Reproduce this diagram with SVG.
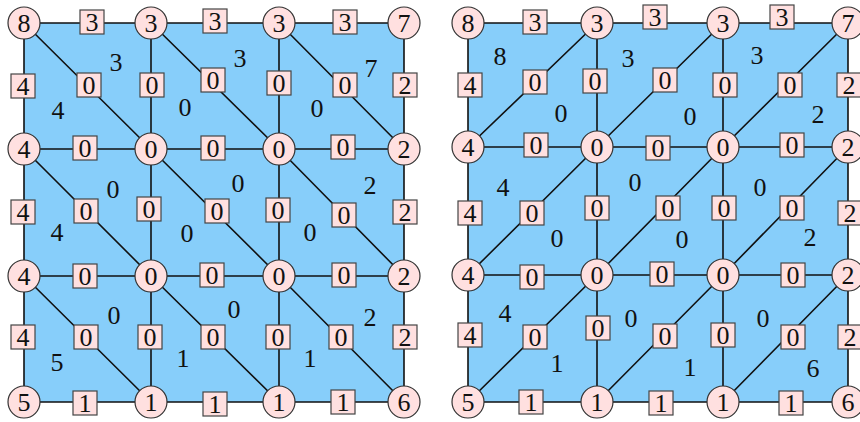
<svg xmlns="http://www.w3.org/2000/svg" width="860" height="422" viewBox="0 0 860 422">
<style>
.bg{fill:#87cefa;stroke:none}
.e{stroke:#111;stroke-width:1.6;fill:none}
.n circle{fill:#ffe0e0;stroke:#333;stroke-width:1.2}
.b rect{fill:#ffe0e0;stroke:#444;stroke-width:1.2}
.n text,.b text,.f text{font-family:"Liberation Serif","Times New Roman",serif;font-size:26px;text-anchor:middle;fill:#111}
</style>
<rect class="bg" x="24" y="23" width="380" height="379"/>
<rect class="bg" x="468" y="23" width="380" height="379"/>
<g id="connectors">
<path class="e" d="M24,23H404M24,149H404M24,276H404M24,402H404M24,23V402M151,23V402M279,23V402M404,23V402"/>
<path class="e" d="M24,23L151,149M151,23L279,149M279,23L404,149M24,149L151,276M151,149L279,276M279,149L404,276M24,276L151,402M151,276L279,402M279,276L404,402"/>
<path class="e" d="M468,23H848M468,147H848M468,275H848M468,402H848M468,23V402M597,23V402M723,23V402M848,23V402"/>
<path class="e" d="M468,147L597,23M597,147L723,23M723,147L848,23M468,275L597,147M597,275L723,147M723,275L848,147M468,402L597,275M597,402L723,275M723,402L848,275"/>
</g>
<g id="left-labels">
<g id="lb-h1" class="b"><rect x="80" y="10" width="24" height="24"/><text x="92" y="31">3</text></g>
<g id="lb-h2" class="b"><rect x="203" y="9" width="24" height="24"/><text x="215" y="30">3</text></g>
<g id="lb-h3" class="b"><rect x="333" y="10" width="24" height="24"/><text x="345" y="31">3</text></g>
<g id="lb-h4" class="b"><rect x="73" y="136" width="24" height="24"/><text x="85" y="157">0</text></g>
<g id="lb-h5" class="b"><rect x="201" y="136" width="24" height="24"/><text x="213" y="157">0</text></g>
<g id="lb-h6" class="b"><rect x="331" y="135" width="24" height="24"/><text x="343" y="156">0</text></g>
<g id="lb-h7" class="b"><rect x="73" y="264" width="24" height="24"/><text x="85" y="285">0</text></g>
<g id="lb-h8" class="b"><rect x="200" y="263" width="24" height="24"/><text x="212" y="284">0</text></g>
<g id="lb-h9" class="b"><rect x="332" y="263" width="24" height="24"/><text x="344" y="284">0</text></g>
<g id="lb-h10" class="b"><rect x="73" y="391" width="24" height="24"/><text x="85" y="412">1</text></g>
<g id="lb-h11" class="b"><rect x="203" y="392" width="24" height="24"/><text x="215" y="413">1</text></g>
<g id="lb-h12" class="b"><rect x="331" y="390" width="24" height="24"/><text x="343" y="411">1</text></g>
<g id="lb-v1" class="b"><rect x="11" y="74" width="24" height="24"/><text x="23" y="95">4</text></g>
<g id="lb-v2" class="b"><rect x="11" y="200" width="24" height="24"/><text x="23" y="221">4</text></g>
<g id="lb-v3" class="b"><rect x="11" y="325" width="24" height="24"/><text x="23" y="346">4</text></g>
<g id="lb-v4" class="b"><rect x="140" y="73" width="24" height="24"/><text x="152" y="94">0</text></g>
<g id="lb-v5" class="b"><rect x="137" y="197" width="24" height="24"/><text x="149" y="218">0</text></g>
<g id="lb-v6" class="b"><rect x="138" y="325" width="24" height="24"/><text x="150" y="346">0</text></g>
<g id="lb-v7" class="b"><rect x="267" y="71" width="24" height="24"/><text x="279" y="92">0</text></g>
<g id="lb-v8" class="b"><rect x="266" y="198" width="24" height="24"/><text x="278" y="219">0</text></g>
<g id="lb-v9" class="b"><rect x="266" y="325" width="24" height="24"/><text x="278" y="346">0</text></g>
<g id="lb-v10" class="b"><rect x="393" y="73" width="24" height="24"/><text x="405" y="94">2</text></g>
<g id="lb-v11" class="b"><rect x="393" y="200" width="24" height="24"/><text x="405" y="221">2</text></g>
<g id="lb-v12" class="b"><rect x="393" y="325" width="24" height="24"/><text x="405" y="346">2</text></g>
<g id="lb-d1" class="b"><rect x="77" y="73" width="24" height="24"/><text x="89" y="94">0</text></g>
<g id="lb-d2" class="b"><rect x="201" y="68" width="24" height="24"/><text x="213" y="89">0</text></g>
<g id="lb-d3" class="b"><rect x="333" y="73" width="24" height="24"/><text x="345" y="94">0</text></g>
<g id="lb-d4" class="b"><rect x="74" y="199" width="24" height="24"/><text x="86" y="220">0</text></g>
<g id="lb-d5" class="b"><rect x="205" y="199" width="24" height="24"/><text x="217" y="220">0</text></g>
<g id="lb-d6" class="b"><rect x="332" y="203" width="24" height="24"/><text x="344" y="224">0</text></g>
<g id="lb-d7" class="b"><rect x="74" y="325" width="24" height="24"/><text x="86" y="346">0</text></g>
<g id="lb-d8" class="b"><rect x="201" y="325" width="24" height="24"/><text x="213" y="346">0</text></g>
<g id="lb-d9" class="b"><rect x="329" y="325" width="24" height="24"/><text x="341" y="346">0</text></g>
</g>
<g id="right-labels">
<g id="rb-h1" class="b"><rect x="523" y="10" width="24" height="24"/><text x="535" y="31">3</text></g>
<g id="rb-h2" class="b"><rect x="643" y="5" width="24" height="24"/><text x="655" y="26">3</text></g>
<g id="rb-h3" class="b"><rect x="770" y="5" width="24" height="24"/><text x="782" y="26">3</text></g>
<g id="rb-h4" class="b"><rect x="524" y="133" width="24" height="24"/><text x="536" y="154">0</text></g>
<g id="rb-h5" class="b"><rect x="646" y="136" width="24" height="24"/><text x="658" y="157">0</text></g>
<g id="rb-h6" class="b"><rect x="780" y="133" width="24" height="24"/><text x="792" y="154">0</text></g>
<g id="rb-h7" class="b"><rect x="520" y="265" width="24" height="24"/><text x="532" y="286">0</text></g>
<g id="rb-h8" class="b"><rect x="650" y="262" width="24" height="24"/><text x="662" y="283">0</text></g>
<g id="rb-h9" class="b"><rect x="781" y="263" width="24" height="24"/><text x="793" y="284">0</text></g>
<g id="rb-h10" class="b"><rect x="519" y="390" width="24" height="24"/><text x="531" y="411">1</text></g>
<g id="rb-h11" class="b"><rect x="649" y="391" width="24" height="24"/><text x="661" y="412">1</text></g>
<g id="rb-h12" class="b"><rect x="779" y="391" width="24" height="24"/><text x="791" y="412">1</text></g>
<g id="rb-v1" class="b"><rect x="458" y="73" width="24" height="24"/><text x="470" y="94">4</text></g>
<g id="rb-v2" class="b"><rect x="458" y="201" width="24" height="24"/><text x="470" y="222">4</text></g>
<g id="rb-v3" class="b"><rect x="458" y="323" width="24" height="24"/><text x="470" y="344">4</text></g>
<g id="rb-v4" class="b"><rect x="583" y="69" width="24" height="24"/><text x="595" y="90">0</text></g>
<g id="rb-v5" class="b"><rect x="585" y="196" width="24" height="24"/><text x="597" y="217">0</text></g>
<g id="rb-v6" class="b"><rect x="586" y="316" width="24" height="24"/><text x="598" y="337">0</text></g>
<g id="rb-v7" class="b"><rect x="713" y="73" width="24" height="24"/><text x="725" y="94">0</text></g>
<g id="rb-v8" class="b"><rect x="712" y="196" width="24" height="24"/><text x="724" y="217">0</text></g>
<g id="rb-v9" class="b"><rect x="711" y="323" width="24" height="24"/><text x="723" y="344">0</text></g>
<g id="rb-v10" class="b"><rect x="837" y="73" width="24" height="24"/><text x="849" y="94">2</text></g>
<g id="rb-v11" class="b"><rect x="838" y="201" width="24" height="24"/><text x="850" y="222">2</text></g>
<g id="rb-v12" class="b"><rect x="838" y="325" width="24" height="24"/><text x="850" y="346">2</text></g>
<g id="rb-d1" class="b"><rect x="523" y="70" width="24" height="24"/><text x="535" y="91">0</text></g>
<g id="rb-d2" class="b"><rect x="653" y="68" width="24" height="24"/><text x="665" y="89">0</text></g>
<g id="rb-d3" class="b"><rect x="778" y="73" width="24" height="24"/><text x="790" y="94">0</text></g>
<g id="rb-d4" class="b"><rect x="520" y="201" width="24" height="24"/><text x="532" y="222">0</text></g>
<g id="rb-d5" class="b"><rect x="656" y="196" width="24" height="24"/><text x="668" y="217">0</text></g>
<g id="rb-d6" class="b"><rect x="780" y="196" width="24" height="24"/><text x="792" y="217">0</text></g>
<g id="rb-d7" class="b"><rect x="523" y="325" width="24" height="24"/><text x="535" y="346">0</text></g>
<g id="rb-d8" class="b"><rect x="653" y="324" width="24" height="24"/><text x="665" y="345">0</text></g>
<g id="rb-d9" class="b"><rect x="781" y="325" width="24" height="24"/><text x="793" y="346">0</text></g>
</g>
<g id="left-nodes">
<g id="ln11" class="n"><circle cx="24" cy="23" r="16"/><text x="24" y="32">8</text></g>
<g id="ln12" class="n"><circle cx="151" cy="23" r="16"/><text x="151" y="32">3</text></g>
<g id="ln13" class="n"><circle cx="279" cy="23" r="16"/><text x="279" y="32">3</text></g>
<g id="ln14" class="n"><circle cx="404" cy="23" r="16"/><text x="404" y="32">7</text></g>
<g id="ln21" class="n"><circle cx="24" cy="149" r="16"/><text x="24" y="158">4</text></g>
<g id="ln22" class="n"><circle cx="151" cy="149" r="16"/><text x="151" y="158">0</text></g>
<g id="ln23" class="n"><circle cx="279" cy="149" r="16"/><text x="279" y="158">0</text></g>
<g id="ln24" class="n"><circle cx="404" cy="149" r="16"/><text x="404" y="158">2</text></g>
<g id="ln31" class="n"><circle cx="24" cy="276" r="16"/><text x="24" y="285">4</text></g>
<g id="ln32" class="n"><circle cx="151" cy="276" r="16"/><text x="151" y="285">0</text></g>
<g id="ln33" class="n"><circle cx="279" cy="276" r="16"/><text x="279" y="285">0</text></g>
<g id="ln34" class="n"><circle cx="404" cy="276" r="16"/><text x="404" y="285">2</text></g>
<g id="ln41" class="n"><circle cx="24" cy="402" r="16"/><text x="24" y="411">5</text></g>
<g id="ln42" class="n"><circle cx="151" cy="402" r="16"/><text x="151" y="411">1</text></g>
<g id="ln43" class="n"><circle cx="279" cy="402" r="16"/><text x="279" y="411">1</text></g>
<g id="ln44" class="n"><circle cx="404" cy="402" r="16"/><text x="404" y="411">6</text></g>
</g>
<g id="right-nodes">
<g id="rn11" class="n"><circle cx="468" cy="23" r="16"/><text x="468" y="32">8</text></g>
<g id="rn12" class="n"><circle cx="597" cy="23" r="16"/><text x="597" y="32">3</text></g>
<g id="rn13" class="n"><circle cx="723" cy="23" r="16"/><text x="723" y="32">3</text></g>
<g id="rn14" class="n"><circle cx="848" cy="23" r="16"/><text x="848" y="32">7</text></g>
<g id="rn21" class="n"><circle cx="468" cy="147" r="16"/><text x="468" y="156">4</text></g>
<g id="rn22" class="n"><circle cx="597" cy="147" r="16"/><text x="597" y="156">0</text></g>
<g id="rn23" class="n"><circle cx="723" cy="147" r="16"/><text x="723" y="156">0</text></g>
<g id="rn24" class="n"><circle cx="848" cy="147" r="16"/><text x="848" y="156">2</text></g>
<g id="rn31" class="n"><circle cx="468" cy="275" r="16"/><text x="468" y="284">4</text></g>
<g id="rn32" class="n"><circle cx="597" cy="275" r="16"/><text x="597" y="284">0</text></g>
<g id="rn33" class="n"><circle cx="723" cy="275" r="16"/><text x="723" y="284">0</text></g>
<g id="rn34" class="n"><circle cx="848" cy="275" r="16"/><text x="848" y="284">2</text></g>
<g id="rn41" class="n"><circle cx="468" cy="402" r="16"/><text x="468" y="411">5</text></g>
<g id="rn42" class="n"><circle cx="597" cy="402" r="16"/><text x="597" y="411">1</text></g>
<g id="rn43" class="n"><circle cx="723" cy="402" r="16"/><text x="723" y="411">1</text></g>
<g id="rn44" class="n"><circle cx="848" cy="402" r="16"/><text x="848" y="411">6</text></g>
</g>
<g id="left-face-labels" class="f">
<text x="116" y="71">3</text><text x="58" y="119">4</text>
<text x="240" y="67">3</text><text x="185" y="116">0</text>
<text x="371" y="77">7</text><text x="317" y="117">0</text>
<text x="113" y="198">0</text><text x="57" y="241">4</text>
<text x="238" y="192">0</text><text x="187" y="242">0</text>
<text x="370" y="194">2</text><text x="310" y="241">0</text>
<text x="114" y="324">0</text><text x="57" y="371">5</text>
<text x="234" y="318">0</text><text x="183" y="367">1</text>
<text x="370" y="326">2</text><text x="310" y="367">1</text>
</g>
<g id="right-face-labels" class="f">
<text x="500" y="65">8</text><text x="561" y="122">0</text>
<text x="628" y="67">3</text><text x="690" y="125">0</text>
<text x="757" y="64">3</text><text x="818" y="123">2</text>
<text x="503" y="196">4</text><text x="557" y="247">0</text>
<text x="635" y="191">0</text><text x="682" y="248">0</text>
<text x="760" y="196">0</text><text x="810" y="246">2</text>
<text x="505" y="322">4</text><text x="557" y="372">1</text>
<text x="631" y="327">0</text><text x="690" y="376">1</text>
<text x="763" y="327">0</text><text x="813" y="377">6</text>
</g>
</svg>
